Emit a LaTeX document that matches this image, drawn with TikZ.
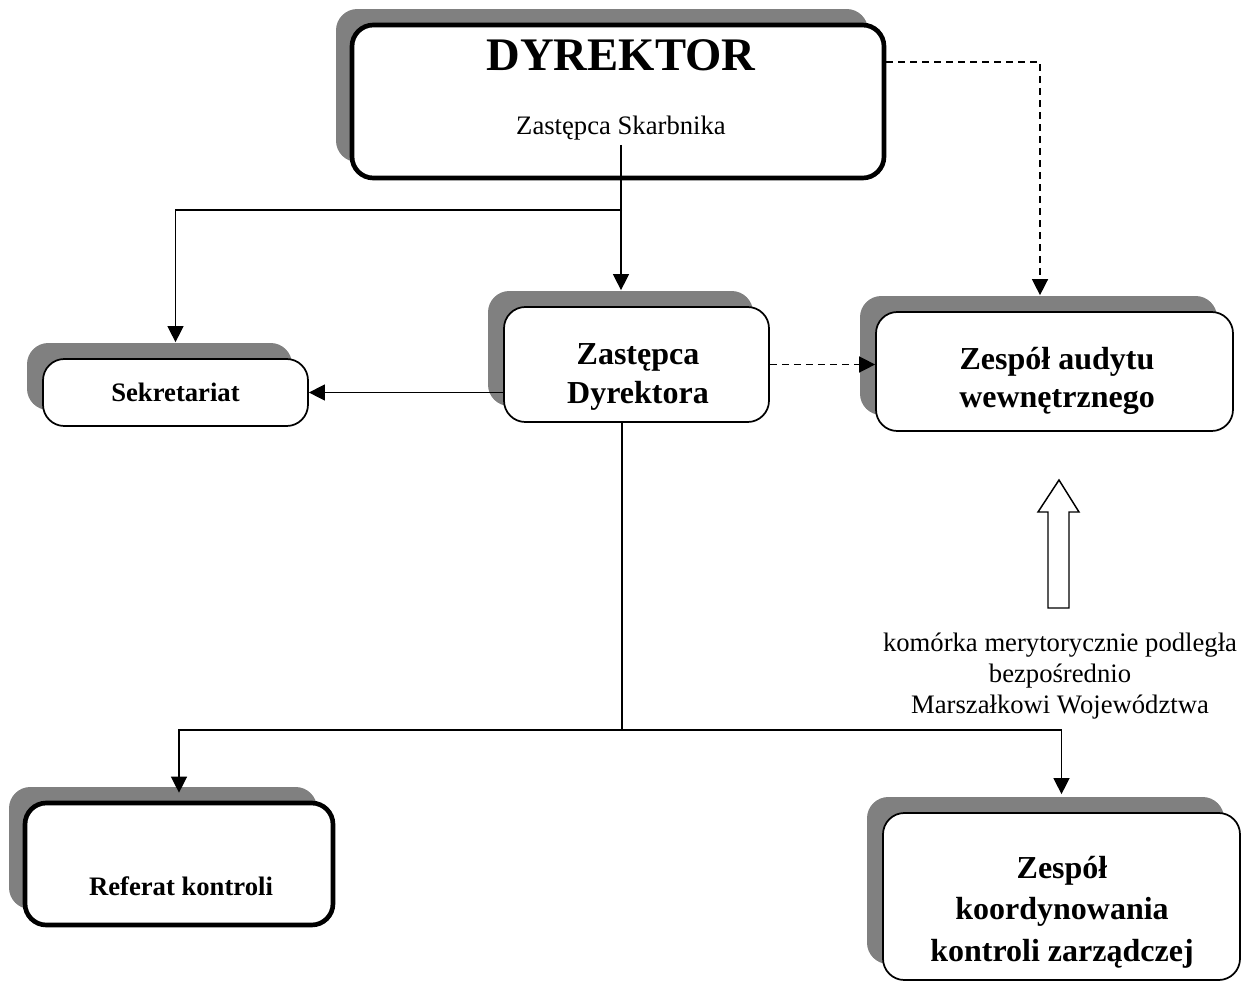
\documentclass[tikz,border=0pt]{standalone}
\usepackage{fontspec}
\setmainfont{Liberation Serif}
\usetikzlibrary{arrows.meta,shadows}

\begin{document}
\begin{tikzpicture}
  [x=0.75pt, y=-0.75pt,
   >={Triangle[length=12pt,width=12pt]},
   unit/.style={draw, fill=white, rounded corners=16pt, line width=1.3pt, inner sep=0,
     general shadow={fill=gray, shadow xshift=-12pt, shadow yshift=12pt}},
   mainunit/.style={unit, line width=3.5pt},
   conn/.style={line width=1pt},
   dashconn/.style={line width=1.1pt, dash pattern=on 5pt off 4pt},
   plaintext/.style={font=\fontsize{20pt}{23pt}\selectfont, align=center},
   boldtext/.style={font=\fontsize{20pt}{24pt}\selectfont\bfseries, align=center},
   headtext/.style={font=\fontsize{24pt}{29pt}\selectfont\bfseries, align=center}]

  \useasboundingbox (0,0) rectangle (1243,982);

  % director
  \node[mainunit, minimum width=399pt, minimum height=114.75pt] (dyr) at (618,101.5) {};
  \node[font=\fontsize{35pt}{40pt}\selectfont\bfseries] (dyrt) at (621,55) {DYREKTOR};
  \node[plaintext] (skarb) at (621,128) {Zastępca Skarbnika};

  % second level
  \node[unit, boldtext, minimum width=198.75pt, minimum height=50.25pt] (sek) at (175.5,392.5) {Sekretariat};
  \node[unit, minimum width=198.75pt, minimum height=86.25pt] (zd) at (636.5,364.5) {};
  \node[headtext] (zdt) at (638,377) {Zastępca\\Dyrektora};
  \node[unit, minimum width=267.75pt, minimum height=89.25pt] (aud) at (1054.5,371.5) {};
  \node[headtext] (audt) at (1057,381) {Zespół audytu\\wewnętrznego};

  % bottom level
  \node[mainunit, minimum width=231pt, minimum height=91.5pt] (ref) at (179,864) {};
  \node[boldtext] (reft) at (181,886) {Referat kontroli};
  \node[unit, minimum width=267.75pt, minimum height=125.25pt] (koord) at (1061.5,896.5) {};
  \node[headtext, font=\fontsize{24pt}{31pt}\selectfont\bfseries] (koordt) at (1062,912) {Zespół\\koordynowania\\kontroli zarządczej};

  % note
  \draw[line width=1.1pt, fill=white]
    (1048,608) -- (1048,512) -- (1038,512) -- (1059,480) -- (1079,512) -- (1069,512) -- (1069,608) -- cycle;
  \node[plaintext] (note) at (1060,676) {komórka merytorycznie podległa\\bezpośrednio\\Marszałkowi Województwa};

  % connectors
  \coordinate (zdtop) at ([yshift=12pt]zd.north);
  \coordinate (split) at (622,210);
  \coordinate (audcorner) at (1040,62);
  \coordinate (audtop) at ([yshift=12pt]aud.north);
  \coordinate (lower) at (622,730);

  \draw[conn, ->] (skarb.south) -- (skarb.south |- zdtop);
  \draw[conn, ->] (split) -| ([yshift=12pt]sek.north);
  \draw[conn, ->] (zd.west |- sek.east) -- (sek.east);
  \draw[dashconn, ->] (zd.east) -- (aud.west |- zd.east);
  \draw[dashconn, ->] (dyr.east |- audcorner) -- (audcorner) -- (audcorner |- audtop);
  \draw[conn] (lower |- zd.south) -- (lower);
  \draw[conn, ->] (lower) -| ([yshift=6pt]ref.north);
  \draw[conn, ->] (lower) -| ([yshift=13.5pt]koord.north);

\end{tikzpicture}
\end{document}
